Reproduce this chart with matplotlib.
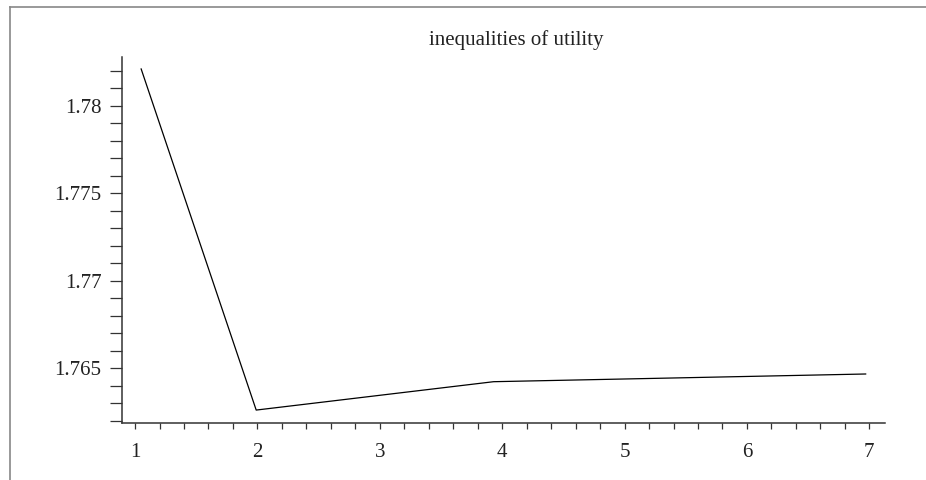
import matplotlib
matplotlib.use("Agg")
import matplotlib.pyplot as plt
from matplotlib.lines import Line2D
from matplotlib.ticker import MultipleLocator, FuncFormatter

# --- DATOS ---
titulo = "inequalities of utility"
x_vals = [1.05, 1.99, 3.93, 6.97]
y_vals = [1.7821, 1.76262, 1.76424, 1.76468]
x_ticks = [1, 2, 3, 4, 5, 6, 7]
y_ticks = [1.765, 1.77, 1.775, 1.78]


def dibujar_grafico():
    fig = plt.figure(figsize=(9.26, 4.8), dpi=100)
    plt.rcParams['font.family'] = ['Liberation Serif', 'DejaVu Serif']

    # Ejes en la misma posicion que la referencia
    ax = fig.add_axes([121.7 / 926, (480 - 422.5) / 480,
                       (885 - 121.7) / 926, (422.5 - 56.7) / 480])

    ax.plot(x_vals, y_vals, color='black', linewidth=0.9)

    ax.set_xlim(0.891, 7.128)
    ax.set_ylim(1.76191, 1.7828)

    # Solo ejes izquierdo e inferior (estilo Maple)
    for lado in ['top', 'right']:
        ax.spines[lado].set_visible(False)
    for lado in ['left', 'bottom']:
        ax.spines[lado].set_color('#333333')
        ax.spines[lado].set_linewidth(1.1)

    ax.set_xticks(x_ticks)
    ax.set_yticks(y_ticks)
    ax.xaxis.set_minor_locator(MultipleLocator(0.2))
    ax.yaxis.set_minor_locator(MultipleLocator(0.001))
    ax.yaxis.set_major_formatter(FuncFormatter(lambda v, p: f"{v:g}"))

    ax.tick_params(axis='x', which='both', direction='out', length=4.3,
                   width=0.9, color='#333333', labelsize=15, pad=10.5,
                   labelcolor='#222222')
    ax.tick_params(axis='y', which='both', direction='out', length=8.6,
                   width=0.9, color='#333333', labelsize=15, pad=6,
                   labelcolor='#222222')

    fig.text(516 / 926, 1 - 44.5 / 480, titulo, ha='center', va='baseline',
             fontsize=15, color='#222222')

    # Marco gris arriba y a la izquierda
    fig.add_artist(Line2D([9.5 / 926, 9.5 / 926], [0, 1 - 7.3 / 480],
                          color='#888888', linewidth=1.2))
    fig.add_artist(Line2D([9.5 / 926, 1], [1 - 7.3 / 480, 1 - 7.3 / 480],
                          color='#888888', linewidth=1.2))

    fig.savefig("out.png", dpi=100)


if __name__ == "__main__":
    dibujar_grafico()
